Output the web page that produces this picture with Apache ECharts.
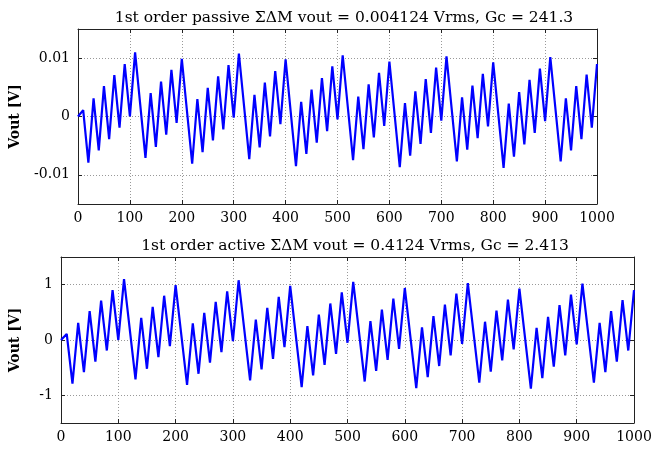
<!DOCTYPE html>
<html><head><meta charset="utf-8">
<script src="https://cdn.jsdelivr.net/npm/echarts@6/dist/echarts.min.js"></script>
<style>html,body{margin:0;padding:0;background:#fff}#c{width:666px;height:452px}</style>
</head><body><div id="c"></div>
<script>
// sample index of each vertex of the piecewise-linear waveform
const vertexX = [0,10,20,30,40,50,60,70,80,90,100,110,130,140,150,160,170,180,190,200,
  220,230,240,250,260,270,280,290,300,310,330,340,350,360,370,380,390,400,
  420,430,440,450,460,470,480,490,500,510,530,540,550,560,570,580,590,600,
  620,630,640,650,660,670,680,690,700,710,730,740,750,760,770,780,790,800,
  820,830,840,850,860,870,880,890,900,910,930,940,950,960,970,980,990,1000];
// active ΣΔM output [V]
const activeV = [0,0.11,-0.79,0.31,-0.58,0.52,-0.39,0.71,-0.19,0.90,0.0,1.10,-0.71,0.40,-0.52,0.60,-0.31,0.80,-0.11,0.99,
  -0.81,0.30,-0.61,0.49,-0.41,0.69,-0.22,0.88,-0.02,1.08,-0.73,0.37,-0.53,0.58,-0.34,0.78,-0.13,0.98,
  -0.85,0.25,-0.64,0.46,-0.45,0.66,-0.25,0.86,-0.05,1.05,-0.75,0.34,-0.56,0.55,-0.36,0.75,-0.16,0.94,
  -0.87,0.23,-0.67,0.43,-0.47,0.64,-0.28,0.84,-0.07,1.03,-0.77,0.33,-0.57,0.53,-0.37,0.73,-0.17,0.93,
  -0.88,0.22,-0.69,0.42,-0.48,0.63,-0.28,0.82,-0.08,1.02,-0.77,0.31,-0.58,0.52,-0.39,0.72,-0.19,0.90];
// passive ΣΔM output [V]
const passiveV = [0,0.0011,-0.0079,0.0031,-0.0058,0.0052,-0.0039,0.0071,-0.0019,0.0090,0.0,0.0110,-0.0071,0.0040,-0.0052,0.0060,-0.0031,0.0080,-0.0011,0.0099,
  -0.0081,0.0030,-0.0061,0.0049,-0.0041,0.0069,-0.0022,0.0088,-0.0002,0.0108,-0.0073,0.0037,-0.0053,0.0058,-0.0034,0.0078,-0.0013,0.0098,
  -0.0085,0.0025,-0.0064,0.0046,-0.0045,0.0066,-0.0025,0.0086,-0.0005,0.0105,-0.0075,0.0034,-0.0056,0.0055,-0.0036,0.0075,-0.0016,0.0094,
  -0.0087,0.0023,-0.0067,0.0043,-0.0047,0.0064,-0.0028,0.0084,-0.0007,0.0103,-0.0077,0.0033,-0.0057,0.0053,-0.0037,0.0073,-0.0017,0.0093,
  -0.0088,0.0022,-0.0069,0.0042,-0.0048,0.0063,-0.0028,0.0082,-0.0008,0.0102,-0.0077,0.0031,-0.0058,0.0052,-0.0039,0.0072,-0.0019,0.0090];
const passiveTitle = '1st order passive \u03A3\u0394M vout = 0.004124 Vrms, Gc = 241.3';
const activeTitle = '1st order active \u03A3\u0394M vout = 0.4124 Vrms, Gc = 2.413';
const yName = 'Vout [V]';
const xTicks = [0,100,200,300,400,500,600,700,800,900,1000];
const passiveYTicks = [-0.01, 0, 0.01];
const activeYTicks = [-1, 0, 1];

const FONT = 'DejaVu Serif';
const grids = [
  {left: 78, top: 29, width: 519, height: 175},
  {left: 61, top: 257, width: 573, height: 166}
];
const txt = {fontFamily: FONT, fontSize: 14, color: '#000'};
const gridLine = {show: true, lineStyle: {color: '#999', type: [1, 2], width: 1}};
const boxLine = {show: true, onZero: false, lineStyle: {color: '#222', width: 1}};
const tick = (vals) => ({show: true, inside: true, length: 4, customValues: vals, lineStyle: {color: '#222'}});

function xAxes(gi) {
  return [
    {type: 'value', gridIndex: gi, min: 0, max: 1000, position: 'bottom',
     axisLine: boxLine, axisTick: tick(xTicks),
     axisLabel: {...txt, margin: 7, customValues: xTicks, formatter: v => String(v)}, splitLine: gridLine},
    {type: 'value', gridIndex: gi, min: 0, max: 1000, position: 'top',
     axisLine: boxLine, axisTick: tick(xTicks), axisLabel: {show: false}, splitLine: {show: false}}
  ];
}
function yAxes(gi, lo, hi, vals, gap) {
  return [
    {type: 'value', gridIndex: gi, min: lo, max: hi, position: 'left',
     axisLine: boxLine, axisTick: tick(vals),
     axisLabel: {...txt, margin: 8, customValues: vals, formatter: v => String(v)}, splitLine: gridLine,
     name: yName, nameLocation: 'middle', nameGap: gap, nameRotate: 90,
     nameTextStyle: {fontFamily: FONT, fontSize: 14, fontWeight: 'bold', color: '#000'}},
    {type: 'value', gridIndex: gi, min: lo, max: hi, position: 'right',
     axisLine: boxLine, axisTick: tick(vals), axisLabel: {show: false}, splitLine: {show: false}}
  ];
}

const chart = echarts.init(document.getElementById('c'), null, {renderer: 'canvas'});
chart.setOption({
  animation: false,
  backgroundColor: '#fff',
  title: [
    {text: passiveTitle, left: 339, top: 5, textAlign: 'center',
     textStyle: {fontFamily: FONT, fontSize: 15.5, fontWeight: 'normal', color: '#000'}},
    {text: activeTitle, left: 350, top: 233, textAlign: 'center',
     textStyle: {fontFamily: FONT, fontSize: 15.5, fontWeight: 'normal', color: '#000'}}
  ],
  grid: grids.map(g => ({...g, show: false})),
  xAxis: [...xAxes(0), ...xAxes(1)],
  yAxis: [...yAxes(0, -0.015, 0.015, passiveYTicks, 56), ...yAxes(1, -1.5, 1.5, activeYTicks, 39)],
  series: [
    {type: 'line', xAxisIndex: 0, yAxisIndex: 0, showSymbol: false,
     lineStyle: {color: '#0000ff', width: 2.2}, data: vertexX.map((x, i) => [x, passiveV[i]])},
    {type: 'line', xAxisIndex: 2, yAxisIndex: 2, showSymbol: false,
     lineStyle: {color: '#0000ff', width: 2.2}, data: vertexX.map((x, i) => [x, activeV[i]])}
  ]
});
</script></body></html>
